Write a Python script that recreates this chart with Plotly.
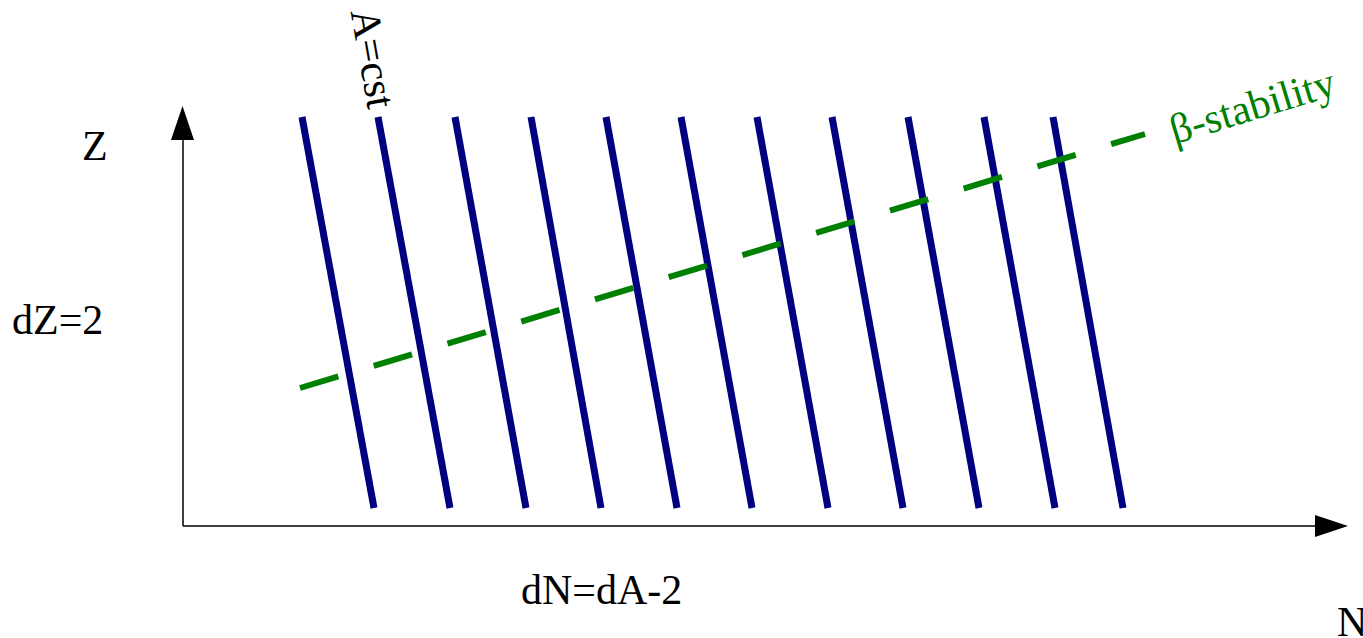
import plotly.graph_objects as go

# Isobar lines (A = const) in the (N, Z) plane: start and end of each line
isobar_n_top = [119, 195, 272, 348, 423, 498, 574, 649, 725, 801, 870]
isobar_z_top = [409] * 11
isobar_n_bottom = [191, 267, 343, 418, 494, 569, 645, 720, 796, 872, 940]
isobar_z_bottom = [18] * 11

# Valley of beta stability
beta_n = [117, 962]
beta_z = [138, 392]

# Axis extents
z_axis_n = [0, 0]
z_axis_z = [0, 386]
n_axis_n = [0, 1132]
n_axis_z = [0, 0]

BLUE = "#000080"
GREEN = "#008000"
FONT = "Liberation Serif, Times New Roman, serif"

fig = go.Figure()

for n0, z0, n1, z1 in zip(isobar_n_top, isobar_z_top, isobar_n_bottom, isobar_z_bottom):
    fig.add_trace(go.Scatter(x=[n0, n1], y=[z0, z1], mode="lines",
                             line=dict(color=BLUE, width=7), hoverinfo="skip"))

fig.add_trace(go.Scatter(x=beta_n, y=beta_z, mode="lines",
                         line=dict(color=GREEN, width=6, dash="40px,37px"),
                         hoverinfo="skip"))

# Axes with arrowheads
fig.add_trace(go.Scatter(x=z_axis_n, y=z_axis_z, mode="lines",
                         line=dict(color="black", width=1.5), hoverinfo="skip"))
fig.add_trace(go.Scatter(x=n_axis_n, y=n_axis_z, mode="lines",
                         line=dict(color="black", width=1.5), hoverinfo="skip"))
fig.add_trace(go.Scatter(x=[-12, 11, -0.5, -12], y=[386, 386, 420, 386], mode="lines",
                         fill="toself", fillcolor="black",
                         line=dict(color="black", width=0), hoverinfo="skip"))
fig.add_trace(go.Scatter(x=[1132, 1132, 1165, 1132], y=[11, -11, 0, 11], mode="lines",
                         fill="toself", fillcolor="black",
                         line=dict(color="black", width=0), hoverinfo="skip"))

labels = [
    dict(text="Z", x=-88, y=380, angle=0, color="black"),
    dict(text="dZ=2", x=-126, y=206, angle=0, color="black"),
    dict(text="dN=dA-2", x=418, y=-64, angle=0, color="black"),
    dict(text="N", x=1169, y=-96, angle=0, color="black"),
    dict(text="A=cst", x=190, y=468, angle=80, color="black"),
    dict(text="β-stability", x=1069, y=420, angle=-17, color=GREEN),
]
for lab in labels:
    fig.add_annotation(x=lab["x"], y=lab["y"], text=lab["text"], showarrow=False,
                       textangle=lab["angle"], xanchor="center", yanchor="middle",
                       font=dict(family=FONT, size=42, color=lab["color"]))

fig.update_layout(
    width=1363, height=638,
    margin=dict(l=0, r=0, t=0, b=0),
    paper_bgcolor="white", plot_bgcolor="white",
    showlegend=False,
    xaxis=dict(range=[-183, 1180], visible=False, fixedrange=True),
    yaxis=dict(range=[-112, 526], visible=False, fixedrange=True),
)

fig.write_html("out.html")
